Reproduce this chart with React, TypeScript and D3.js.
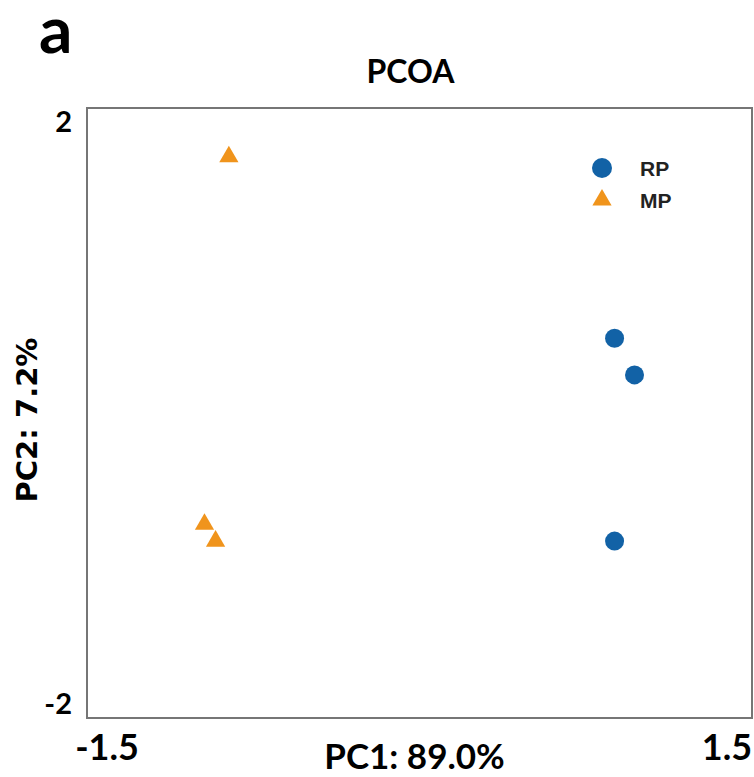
import { useEffect, useRef } from "react";
import * as d3 from "d3";

// PCoA coordinates
const rpX = [0.88, 0.97, 0.88];
const rpY = [0.49, 0.25, -0.84];
const mpX = [-0.86, -0.97, -0.92];
const mpY = [1.68, -0.73, -0.84];

const xTicks = [-1.5, 1.5];
const yTicks = [2, -2];
const legendNames = ["RP", "MP"];

const BLUE = "#1262a6";
const ORANGE = "#f0941c";

export default function App() {
  const ref = useRef<SVGSVGElement>(null);

  useEffect(() => {
    const svg = d3.select(ref.current);
    svg.selectAll("*").remove();

    const W = 754, H = 777;
    const m = { left: 87, top: 108, right: 2, bottom: 59 };

    const x = d3.scaleLinear().domain([-1.5, 1.5]).range([m.left, W - m.right]);
    const y = d3.scaleLinear().domain([-2, 2]).range([H - m.bottom, m.top]);

    svg.append("rect").attr("width", W).attr("height", H).attr("fill", "#fff");

    // panel label
    svg.append("text")
      .attr("x", 39).attr("y", 53)
      .attr("font-family", "Lato, sans-serif")
      .attr("font-weight", "bold")
      .attr("font-size", 54)
      .attr("transform", "translate(39,53) scale(1.22) translate(-39,-53)")
      .text("a");

    // title
    svg.append("text")
      .attr("x", (x(-1.5) + x(1.5)) / 2 - 9).attr("y", 83)
      .attr("text-anchor", "middle")
      .attr("font-family", "Lato, sans-serif")
      .attr("font-weight", "bold")
      .attr("font-size", 32)
      .text("PCOA");

    // plot frame
    svg.append("rect")
      .attr("x", x(-1.5)).attr("y", y(2))
      .attr("width", x(1.5) - x(-1.5))
      .attr("height", y(-2) - y(2))
      .attr("fill", "none")
      .attr("stroke", "#767676")
      .attr("stroke-width", 2);

    // y tick labels
    svg.selectAll(".yt")
      .data(yTicks)
      .enter()
      .append("text")
      .attr("x", x(-1.5) - 15)
      .attr("y", (d) => (d > 0 ? y(d) + 24 : y(d) - 4))
      .attr("text-anchor", "end")
      .attr("font-family", "Lato, sans-serif")
      .attr("font-weight", "bold")
      .attr("font-size", 29)
      .text((d) => String(d));

    // x tick labels
    svg.selectAll(".xt")
      .data(xTicks)
      .enter()
      .append("text")
      .attr("x", (d) => (d < 0 ? x(d) + 20 : x(d) - 25))
      .attr("y", y(-2) + 42)
      .attr("text-anchor", "middle")
      .attr("font-family", "Lato, sans-serif")
      .attr("font-weight", "bold")
      .attr("font-size", 36)
      .text((d) => String(d));

    // axis titles
    svg.append("text")
      .attr("x", (x(-1.5) + x(1.5)) / 2 - 5)
      .attr("y", y(-2) + 51)
      .attr("text-anchor", "middle")
      .attr("font-family", "Lato, sans-serif")
      .attr("font-weight", "bold")
      .attr("font-size", 35)
      .text("PC1: 89.0%");

    svg.append("text")
      .attr("transform", `translate(37, 420) rotate(-90)`)
      .attr("text-anchor", "middle")
      .attr("font-family", "DejaVu Sans, sans-serif")
      .attr("font-weight", "bold")
      .attr("font-size", 29)
      .text("PC2: 7.2%");

    const tri = d3.symbol().type(d3.symbolTriangle).size(160);

    // RP points
    svg.selectAll(".rp")
      .data(d3.range(rpX.length))
      .enter()
      .append("circle")
      .attr("cx", (i) => x(rpX[i]))
      .attr("cy", (i) => y(rpY[i]))
      .attr("r", 9.5)
      .attr("fill", BLUE);

    // MP points
    svg.selectAll(".mp")
      .data(d3.range(mpX.length))
      .enter()
      .append("path")
      .attr("d", tri)
      .attr("transform", (i) => `translate(${x(mpX[i])}, ${y(mpY[i])})`)
      .attr("fill", ORANGE);

    // legend
    const lg = svg.append("g").attr("transform", "translate(602, 168)");
    legendNames.forEach((name, i) => {
      const row = lg.append("g").attr("transform", `translate(0, ${i * 32})`);
      if (i === 0) {
        row.append("circle").attr("r", 10).attr("fill", BLUE);
      } else {
        row.append("path").attr("d", tri).attr("fill", ORANGE);
      }
      row.append("text")
        .attr("x", 38).attr("y", 8)
        .attr("font-family", "Liberation Sans, Arial, sans-serif")
        .attr("font-weight", "bold")
        .attr("font-size", 21)
        .attr("fill", "#222")
        .text(name);
    });
  }, []);

  return (
    <svg
      ref={ref}
      width={754}
      height={777}
      style={{ position: "absolute", left: 0, top: 0 }}
    />
  );
}
